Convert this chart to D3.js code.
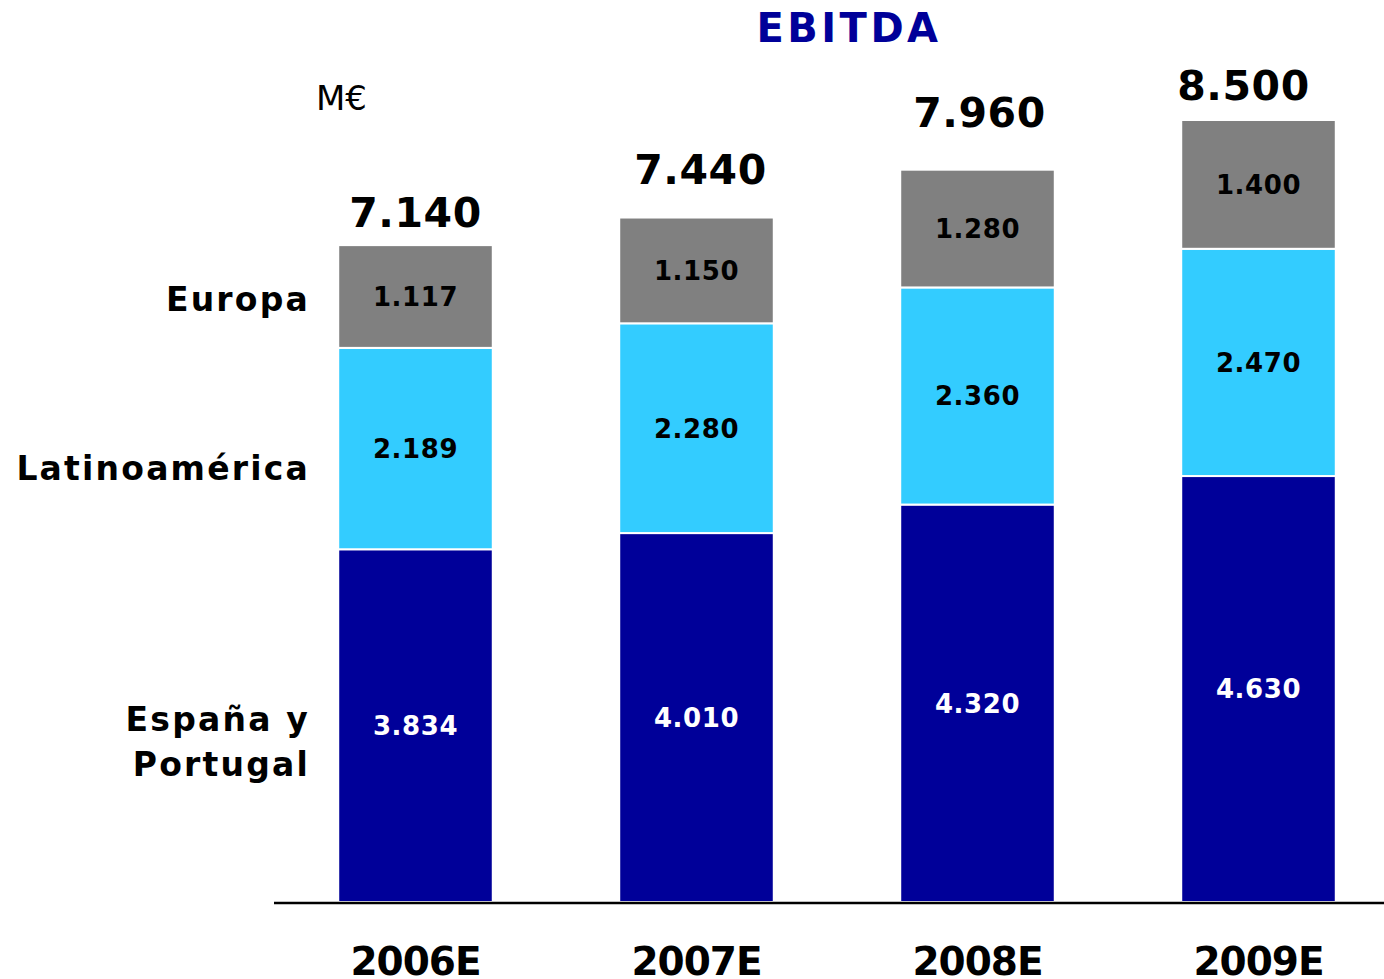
<!DOCTYPE html>
<html>
<head>
<meta charset="utf-8">
<script src="https://cdn.jsdelivr.net/npm/d3@7"></script>
<style>
  body { margin: 0; background: #fff; }
  svg { display: block; font-family: "DejaVu Sans", Verdana, sans-serif; }
</style>
</head>
<body>
<svg id="chart" width="1384" height="979"></svg>
<script>
// EBITDA by region, M€
const years   = ["2006E", "2007E", "2008E", "2009E"];
const spain   = [3834, 4010, 4320, 4630];
const latam   = [2189, 2280, 2360, 2470];
const europe  = [1117, 1150, 1280, 1400];
const totals  = [7140, 7440, 7960, 8500];
const colors  = ["#000099", "#33CCFF", "#808080"];
const labelColors = ["#fff", "#000", "#000"];

// the source slide places total labels by hand, not evenly
const totalNudge = [[0, 18], [4, 34], [2, 43], [-15, 20]];

const fmt = v => d3.format(",")(v).replace(/,/g, ".");

const svg = d3.select("#chart");

const x = d3.scaleBand()
  .domain(years)
  .range([275, 1399])
  .paddingInner(0.45)
  .paddingOuter(0.225);

const y = d3.scaleLinear().domain([0, 8500]).range([902, 120]);

// stack the three regions
const rows = years.map((yr, i) => ({ year: yr, s0: spain[i], s1: latam[i], s2: europe[i] }));
const stack = d3.stack().keys(["s0", "s1", "s2"])(rows);

const layer = svg.selectAll(".layer")
  .data(stack)
  .join("g")
  .attr("class", "layer")
  .attr("fill", (d, i) => colors[i]);

layer.selectAll("rect")
  .data(d => d)
  .join("rect")
  .attr("x", d => x(d.data.year))
  .attr("width", x.bandwidth())
  .attr("y", d => y(d[1]))
  .attr("height", d => y(d[0]) - y(d[1]))
  .attr("stroke", "#fff")
  .attr("stroke-width", 2);

// segment values
stack.forEach((s, k) => {
  svg.append("g").selectAll("text")
    .data(s)
    .join("text")
    .attr("x", d => x(d.data.year) + x.bandwidth() / 2)
    .attr("y", d => (y(d[0]) + y(d[1])) / 2)
    .attr("dy", "0.36em")
    .attr("text-anchor", "middle")
    .attr("font-size", 26)
    .attr("font-weight", "bold")
    .attr("letter-spacing", 0.6)
    .attr("fill", labelColors[k])
    .text(d => fmt(d[1] - d[0]));
});

// totals
svg.append("g").selectAll("text")
  .data(years)
  .join("text")
  .attr("x", (d, i) => x(d) + x.bandwidth() / 2 + totalNudge[i][0])
  .attr("y", (d, i) => y(totals[i]) - totalNudge[i][1])
  .attr("text-anchor", "middle")
  .attr("font-size", 41)
  .attr("font-weight", "bold")
  .attr("letter-spacing", 0.6)
  .attr("fill", "#000")
  .text((d, i) => fmt(totals[i]));

// baseline axis
const axis = svg.append("g")
  .attr("transform", `translate(0,${y(0)})`)
  .call(d3.axisBottom(x).tickSize(0).tickPadding(0));
axis.select(".domain")
  .attr("d", "M274,1H1384")
  .attr("stroke", "#000")
  .attr("stroke-width", 2.5);
axis.selectAll(".tick text")
  .attr("font-family", "'DejaVu Sans', Verdana, sans-serif")
  .attr("font-size", 39)
  .attr("font-weight", "bold")
  .attr("letter-spacing", -1)
  .attr("fill", "#000")
  .attr("y", 73)
  .attr("dy", 0);

// region labels on the left
const leftLabels = [
  { lines: ["Europa"], y: 299 },
  { lines: ["Latinoamérica"], y: 468 },
  { lines: ["España y", "Portugal"], y: 742 }
];
leftLabels.forEach(l => {
  const t = svg.append("text")
    .attr("text-anchor", "end")
    .attr("font-size", 33)
    .attr("font-weight", "bold")
    .attr("letter-spacing", 2.2)
    .attr("fill", "#000");
  l.lines.forEach((ln, i) => {
    t.append("tspan")
      .attr("x", 310)
      .attr("y", l.y + (i - (l.lines.length - 1) / 2) * 45)
      .attr("dy", "0.36em")
      .text(ln);
  });
});

// title and unit
svg.append("text")
  .attr("x", 849).attr("y", 42)
  .attr("text-anchor", "middle")
  .attr("font-size", 40)
  .attr("font-weight", "bold")
  .attr("letter-spacing", 3.5)
  .attr("fill", "#000099")
  .text("EBITDA");

svg.append("text")
  .attr("x", 316).attr("y", 110)
  .attr("font-size", 34)
  .attr("fill", "#000")
  .text("M€");
</script>
</body>
</html>
